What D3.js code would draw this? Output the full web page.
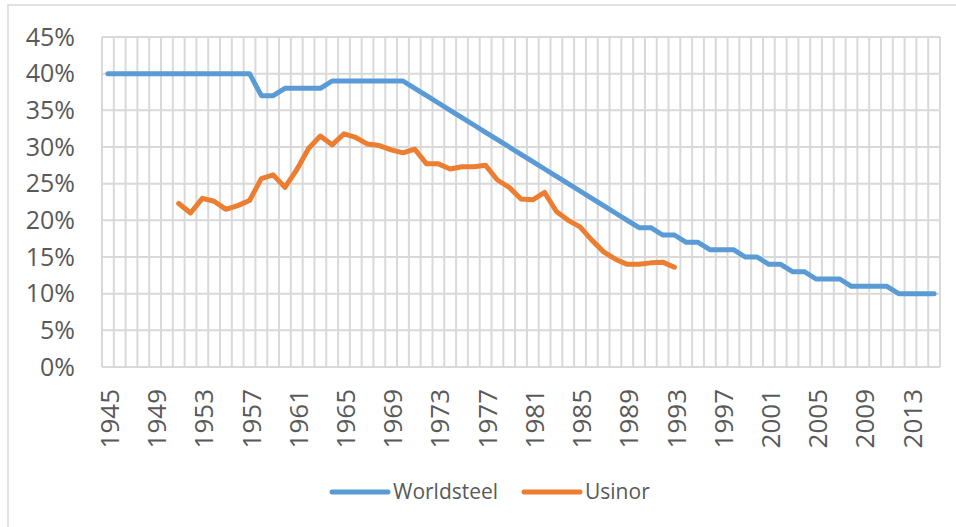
<!DOCTYPE html>
<html lang="en">
<head>
  <meta charset="utf-8">
  <title>Worldsteel vs Usinor</title>
  <script src="https://cdn.jsdelivr.net/npm/d3@7"></script>
  <style>
  body { margin: 0; background: #fff; }
  text { font-family: "Open Sans", sans-serif; fill: #595959; }
  .grid line { stroke: #d9d9d9; stroke-width: 2; }
  </style>
</head>
<body>
  <svg width="956" height="527"></svg>
  <script>
  // years 1945..2015, one category each
  var years = d3.range(1945, 2016);

  var worldsteel = [40, 40, 40, 40, 40, 40, 40, 40, 40, 40, 40, 40, 40,
    37, 37,
    38, 38, 38, 38,
    39, 39, 39, 39, 39, 39, 39,
    38, 37, 36, 35, 34, 33, 32, 31, 30, 29, 28, 27, 26, 25, 24, 23, 22, 21, 20,
    19, 19, 18, 18, 17, 17, 16, 16, 16, 15, 15, 14, 14, 13, 13,
    12, 12, 12, 11, 11, 11, 11, 10, 10, 10, 10];

  var usinor = [null, null, null, null, null, null,
    22.3, 21.0, 23.0, 22.6, 21.5, 22.0, 22.7, 25.7, 26.2, 24.5,
    26.9, 29.8, 31.5, 30.3, 31.8, 31.3, 30.4, 30.2, 29.6, 29.2,
    29.7, 27.7, 27.7, 27.0, 27.3, 27.3, 27.5, 25.5, 24.5, 22.9,
    22.8, 23.8, 21.2, 20.0, 19.1, 17.3, 15.7, 14.7, 14.0, 14.0,
    14.2, 14.3, 13.6,
    null, null, null, null, null, null, null, null, null, null, null,
    null, null, null, null, null, null, null, null, null, null, null];

  var yTicks = [0, 5, 10, 15, 20, 25, 30, 35, 40, 45];
  var xLabels = years.filter(function(y) { return (y - 1945) % 4 === 0; });

  var seriesNames = ["Worldsteel", "Usinor"];
  var colors = ["#5b9bd5", "#ed7d31"];

  var svg = d3.select("svg"),
      plot = {left: 102, right: 940, top: 37, bottom: 367};

  // outer frame (only top and left edges are in view)
  svg.append("path")
      .attr("d", "M8,527V5H956")
      .attr("fill", "none")
      .attr("stroke", "#d9d9d9")
      .attr("stroke-width", 1.5);

  var x = d3.scaleBand()
      .domain(years)
      .range([plot.left, plot.right])
      .padding(0);

  var y = d3.scaleLinear()
      .domain([0, 45])
      .range([plot.bottom, plot.top]);

  var grid = svg.append("g").attr("class", "grid");

  grid.selectAll(".v")
    .data(years.concat([null]))
    .enter().append("line")
      .attr("x1", function(d) { return d == null ? plot.right : x(d); })
      .attr("x2", function(d) { return d == null ? plot.right : x(d); })
      .attr("y1", plot.top)
      .attr("y2", plot.bottom);

  grid.selectAll(".h")
    .data(yTicks)
    .enter().append("line")
      .attr("x1", plot.left)
      .attr("x2", plot.right)
      .attr("y1", function(d) { return y(d); })
      .attr("y2", function(d) { return y(d); });

  svg.append("g")
    .selectAll("text")
    .data(yTicks)
    .enter().append("text")
      .attr("x", 75)
      .attr("y", function(d) { return y(d); })
      .attr("dy", "0.35em")
      .attr("text-anchor", "end")
      .style("font-size", "25px")
      .text(function(d) { return d + "%"; });

  svg.append("g")
    .selectAll("text")
    .data(xLabels)
    .enter().append("text")
      .attr("transform", function(d) {
        return "translate(" + (x(d) + x.bandwidth() / 2 + 2) + ",389) rotate(-90)";
      })
      .attr("dy", "0.35em")
      .attr("text-anchor", "end")
      .style("font-size", "26px")
      .text(function(d) { return d; });

  var line = d3.line()
      .defined(function(d) { return d.v != null; })
      .x(function(d) { return x(d.year) + x.bandwidth() / 2; })
      .y(function(d) { return y(d.v); });

  [worldsteel, usinor].forEach(function(vals, i) {
    svg.append("path")
        .datum(years.map(function(yr, j) { return {year: yr, v: vals[j]}; }))
        .attr("fill", "none")
        .attr("stroke", colors[i])
        .attr("stroke-width", 5)
        .attr("stroke-linejoin", "round")
        .attr("stroke-linecap", "round")
        .attr("d", line);
  });

  var legendX = [332, 524];
  var legend = svg.append("g").selectAll("g")
    .data(seriesNames)
    .enter().append("g")
      .attr("transform", function(d, i) { return "translate(" + legendX[i] + ",492)"; });

  legend.append("line")
      .attr("x1", 0)
      .attr("x2", 56)
      .attr("stroke", function(d, i) { return colors[i]; })
      .attr("stroke-width", 5)
      .attr("stroke-linecap", "round");

  legend.append("text")
      .attr("x", 61)
      .attr("dy", "0.35em")
      .style("font-size", "21px")
      .text(function(d) { return d; });
  </script>
</body>
</html>
